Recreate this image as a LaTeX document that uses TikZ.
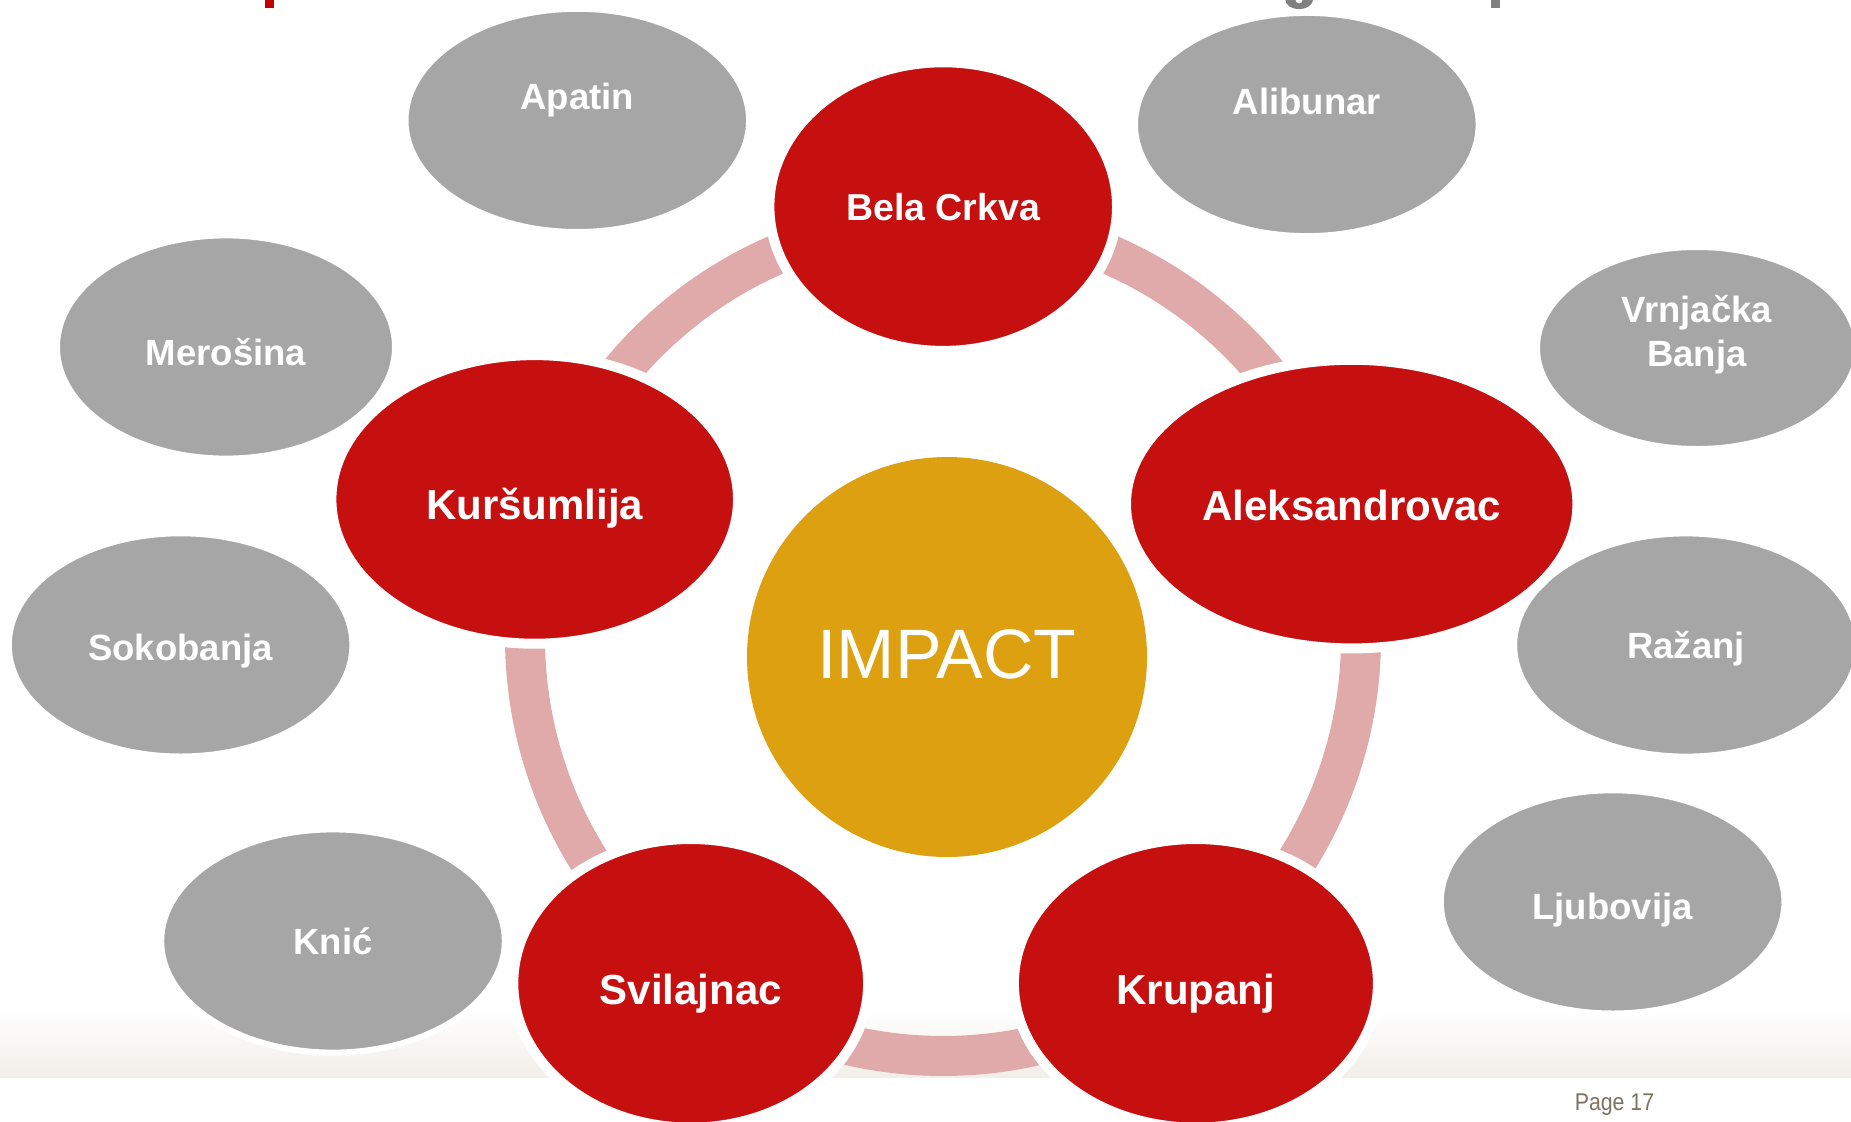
\documentclass[tikz,border=0pt]{standalone}
\usepackage{fontspec}
\usepackage{graphicx}
\setmainfont{Liberation Sans}
\usetikzlibrary{shapes.geometric}
\definecolor{redfill}{HTML}{C61010}
\definecolor{greyfill}{HTML}{A6A6A6}
\definecolor{goldfill}{HTML}{DCA010}
\definecolor{ringpink}{HTML}{E0AAAA}
\definecolor{bandbeige}{HTML}{F2EEE8}
\definecolor{pagetxt}{HTML}{7D7262}
\definecolor{titlegrey}{HTML}{808080}
\definecolor{titlered}{HTML}{C00000}
\begin{document}
\begin{tikzpicture}[x=1pt,y=-1pt,
  greyell/.style={ellipse, fill=greyfill, draw=white, line width=6pt, inner sep=0pt,
    minimum width=343.6pt, minimum height=223.2pt, text=white,
    font=\fontsize{36.5}{44}\selectfont\bfseries, text height=26.1pt, text depth=0pt},
  redell/.style={ellipse, fill=redfill, draw=white, line width=10pt, inner sep=0pt,
    minimum height=288.6pt, text=white,
    font=\fontsize{42}{50}\selectfont\bfseries, text height=30.1pt, text depth=0pt},
  greytxt/.style={text=white, font=\fontsize{36.5}{44}\selectfont\bfseries, align=center, inner sep=0pt},
  hub/.style={circle, fill=goldfill, minimum size=400pt, inner sep=0pt, text=white,
    font=\fontsize{70}{84}\selectfont, text height=50.1pt, text depth=8pt},
  ringarc/.style={draw=ringpink, line width=40pt},
  pagelabel/.style={text=pagetxt, font=\fontsize{24.2}{29}\selectfont, inner sep=0pt, anchor=base},
]
\useasboundingbox (0,0) rectangle (1851,1121);
\fill[white] (0,0) rectangle (1851,1121);
\clip (0,0) rectangle (1851,1121);

% background band
\shade[top color=white, bottom color=bandbeige] (0,1010) rectangle (1851,1077);

% cut-off title fragments
\fill[titlered] (265,-2) rectangle (273.5,8.3);
\fill[titlegrey] (1285,-1) .. controls (1286,12.5) and (1312,12.5) .. (1313.3,-1)
  -- (1303,-1) .. controls (1302.5,5) and (1295.5,5) .. (1295,-1) -- cycle;
\fill[titlegrey] (1491,-2) rectangle (1500,8);

% ring connectors
\coordinate (ringc) at (943,638);
\draw[ringarc] (ringc) ++(90:418pt) arc[start angle=90, end angle=18.1, radius=418pt];
\draw[ringarc] (ringc) ++(18.1:418pt) arc[start angle=18.1, end angle=-53.7, radius=418pt];
\draw[ringarc] (ringc) ++(-53.7:418pt) arc[start angle=-53.7, end angle=-126.1, radius=418pt];
\draw[ringarc] (ringc) ++(-126.1:418pt) arc[start angle=-126.1, end angle=-198.8, radius=418pt];
\draw[ringarc] (ringc) ++(161.2:418pt) arc[start angle=161.2, end angle=90, radius=418pt];

% grey ellipses
\node[greyell, text depth=47pt] (apatin) at (577.3,120.4) {Apatin};
\node[greyell, text depth=46pt] (alibunar) at (1306.8,124.5) {Alibunar};
\node[greyell, minimum width=338pt, text height=37pt] (merosina) at (226,347) {Merošina};
\node[greyell, text height=32pt] (sokobanja) at (180.6,644.9) {Sokobanja};
\node[greyell] (razanj) at (1686,645) {Ražanj};
\node[greyell, text height=35pt] (ljubovija) at (1612.6,901.9) {Ljubovija};
\node[greyell] (knic) at (333,941) {Knić};
\node[greyell, minimum width=320pt, minimum height=202pt] (vrnjacka) at (1697,348) {};
\node[greytxt] (vrnjackatxt) at ([yshift=13pt]vrnjacka.center) {Vrnjačka\\Banja};

% red ellipses
\node[redell, minimum width=347.6pt, font=\fontsize{37.5}{45}\selectfont\bfseries, text height=26.9pt] (bela) at (943.2,206.6) {Bela Crkva};
\node[redell, minimum width=406.6pt, text height=41pt] (kursumlija) at (534.7,499.4) {Kuršumlija};
\node[redell, minimum width=451.4pt, text height=32pt] (aleksandrovac) at (1351.7,504.1) {Aleksandrovac};
\node[redell, minimum width=354.8pt, text height=42pt] (svilajnac) at (690.7,983.3) {Svilajnac};
\node[redell, minimum width=364pt, text height=42pt] (krupanj) at (1195.9,983.3) {Krupanj};

% hub
\node[hub] (impact) at (947,657) {IMPACT};

% page number
\node[pagelabel] (page) at (1614.5,1110) {\scalebox{0.88}[1]{Page 17}};
\end{tikzpicture}
\end{document}
